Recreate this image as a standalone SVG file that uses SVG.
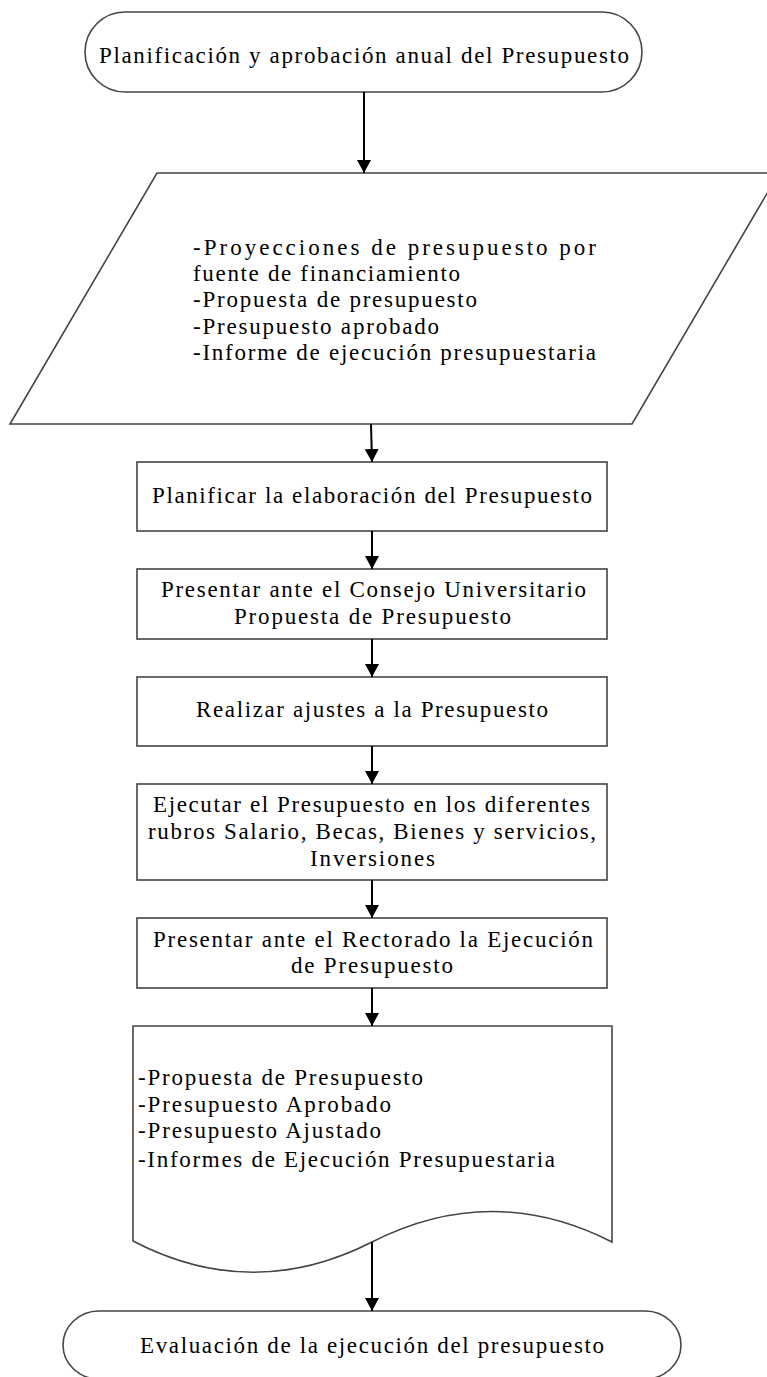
<svg xmlns="http://www.w3.org/2000/svg" width="767" height="1377" viewBox="0 0 767 1377">
<style>
.shape{fill:#ffffff;stroke:#4a433e;stroke-width:1.6}
.t{font-family:"Liberation Serif","Times New Roman",serif;font-size:23px;fill:#000}
.edge{stroke:#000;stroke-width:2;fill:none;marker-end:url(#arr)}
</style>
<defs>
<marker id="arr" markerUnits="userSpaceOnUse" markerWidth="14" markerHeight="14" refX="13" refY="7" orient="auto">
<path d="M0,0 L13,7 L0,14 z" fill="#000"/>
</marker>
</defs>
<rect width="767" height="1377" fill="#fff"/>
<g id="n1">
<rect class="shape" x="85" y="12" width="557" height="80" rx="40" ry="40"/>
<text class="t" x="99" y="63" textLength="530" lengthAdjust="spacing">Planificación y aprobación anual del Presupuesto</text>
</g>
<g id="n2">
<path class="shape" d="M157,173 L779,173 L632,424 L10,424 Z"/>
<text class="t" x="193" y="255" textLength="403" lengthAdjust="spacing">-Proyecciones de presupuesto por</text>
<text class="t" x="193" y="281" textLength="267" lengthAdjust="spacing">fuente de financiamiento</text>
<text class="t" x="193" y="307" textLength="284" lengthAdjust="spacing">-Propuesta de presupuesto</text>
<text class="t" x="193" y="334" textLength="246" lengthAdjust="spacing">-Presupuesto aprobado</text>
<text class="t" x="193" y="360" textLength="403" lengthAdjust="spacing">-Informe de ejecución presupuestaria</text>
</g>
<g id="n3">
<rect class="shape" x="137" y="462" width="470" height="69"/>
<text class="t" x="152" y="503" textLength="440" lengthAdjust="spacing">Planificar la elaboración del Presupuesto</text>
</g>
<g id="n4">
<rect class="shape" x="137" y="569" width="470" height="70"/>
<text class="t" x="161" y="597" textLength="425" lengthAdjust="spacing">Presentar ante el Consejo Universitario</text>
<text class="t" x="234" y="624" textLength="277" lengthAdjust="spacing">Propuesta de Presupuesto</text>
</g>
<g id="n5">
<rect class="shape" x="137" y="677" width="470" height="69"/>
<text class="t" x="196" y="717" textLength="352" lengthAdjust="spacing">Realizar ajustes a la Presupuesto</text>
</g>
<g id="n6">
<rect class="shape" x="137" y="784" width="470" height="96"/>
<text class="t" x="153" y="812" textLength="437" lengthAdjust="spacing">Ejecutar el Presupuesto en los diferentes</text>
<text class="t" x="148" y="839" textLength="448" lengthAdjust="spacing">rubros Salario, Becas, Bienes y servicios,</text>
<text class="t" x="310" y="866" textLength="125" lengthAdjust="spacing">Inversiones</text>
</g>
<g id="n7">
<rect class="shape" x="137" y="918" width="470" height="70"/>
<text class="t" x="153" y="947" textLength="440" lengthAdjust="spacing">Presentar ante el Rectorado la Ejecución</text>
<text class="t" x="291" y="973" textLength="162" lengthAdjust="spacing">de Presupuesto</text>
</g>
<g id="n8">
<path class="shape" d="M133,1026 L612,1026 L612,1242 Q492,1181 372,1242 Q252,1303 133,1241 Z"/>
<text class="t" x="138" y="1085" textLength="285" lengthAdjust="spacing">-Propuesta de Presupuesto</text>
<text class="t" x="138" y="1112" textLength="253" lengthAdjust="spacing">-Presupuesto Aprobado</text>
<text class="t" x="138" y="1138" textLength="243" lengthAdjust="spacing">-Presupuesto Ajustado</text>
<text class="t" x="138" y="1167" textLength="417" lengthAdjust="spacing">-Informes de Ejecución Presupuestaria</text>
</g>
<g id="n9">
<rect class="shape" x="63" y="1311" width="618" height="68" rx="36" ry="34"/>
<text class="t" x="140" y="1353" textLength="464" lengthAdjust="spacing">Evaluación de la ejecución del presupuesto</text>
</g>
<g id="edges">
<line class="edge" x1="364" y1="92" x2="364" y2="173"/>
<line class="edge" x1="371" y1="424" x2="372" y2="462"/>
<line class="edge" x1="372" y1="531" x2="372" y2="569"/>
<line class="edge" x1="372" y1="639" x2="372" y2="677"/>
<line class="edge" x1="372" y1="746" x2="372" y2="784"/>
<line class="edge" x1="372" y1="880" x2="372" y2="918"/>
<line class="edge" x1="372" y1="988" x2="372" y2="1026"/>
<line class="edge" x1="372" y1="1242" x2="372" y2="1311"/>
</g>
</svg>
